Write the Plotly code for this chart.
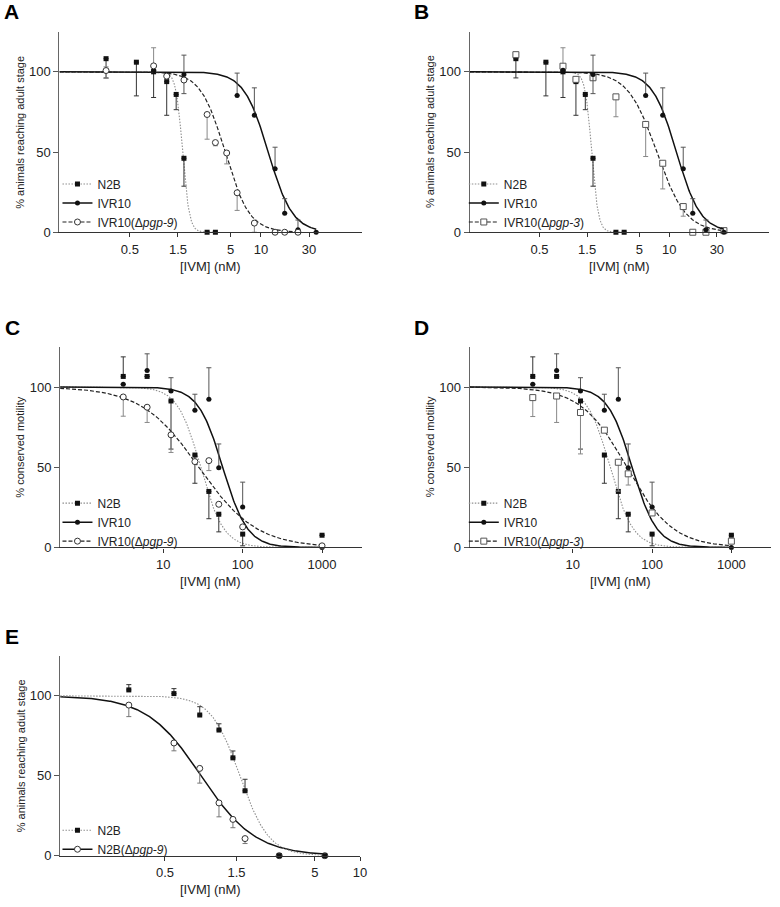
import numpy as np
import plotly.graph_objects as go

W, H = 780, 907
FONT = "Liberation Sans, Arial, Helvetica, sans-serif"

# ---------------- Data: panels A & B (larval development, [IVM] nM) ----------------
n2b_dev_x = [0.29, 0.58, 0.86, 1.16, 1.44, 1.72, 2.92, 3.53]
n2b_dev_y = [108.2, 106.0, 100.0, 93.9, 85.9, 46.1, 0.0, 0.0]
n2b_dev_up = [0, 0, 0, 0, 0, 0, 0, 0]
n2b_dev_dn = [12, 21, 16, 21, 9.5, 17.4, 0, 0]

ivr10_dev_x = [0.86, 1.72, 5.8, 8.6, 13.8, 17.2, 23.3, 35.3]
ivr10_dev_y = [101.0, 98.4, 85.2, 73.0, 39.5, 11.9, 1.6, 0.0]
ivr10_dev_up = [0, 12, 14, 17, 13.5, 9, 6, 0]
ivr10_dev_dn = [0, 12, 0, 0, 0, 0, 0, 0]

pgp9_dev_x = [0.29, 0.86, 1.16, 1.72, 2.92, 3.53, 4.57, 5.8, 8.6, 13.8, 17.2, 23.3]
pgp9_dev_y = [100.8, 103.7, 97.3, 94.9, 73.4, 55.9, 49.4, 24.6, 5.7, 0.0, 0.0, 0.0]
pgp9_dev_up = [2.3, 11.3, 0, 0, 0, 0, 0, 0, 0, 0, 0, 0]
pgp9_dev_dn = [4.9, 0, 0, 0, 15.4, 2, 6.8, 11, 5.7, 0, 0, 0]

pgp3_dev_x = [0.29, 0.86, 1.16, 1.72, 2.92, 5.8, 8.6, 13.8, 17.2, 23.3, 35.3]
pgp3_dev_y = [110.7, 103.5, 95.3, 96.3, 84.4, 67.2, 43.0, 16.0, 0.0, 0.0, 1.0]
pgp3_dev_up = [0, 11.5, 0, 0, 0, 0, 0, 0, 0, 0, 0]
pgp3_dev_dn = [0, 0, 0, 0, 12.4, 20, 16, 6, 0, 0, 0]

# fitted dose-response parameters (IC50 nM, Hill slope)
dev_fit_ic50 = {"n2b": 1.67, "ivr10": 11.8, "pgp9": 4.4, "pgp3": 7.5}
dev_fit_hill = {"n2b": 13.0, "ivr10": 3.6, "pgp9": 3.6, "pgp3": 3.0}

# ---------------- Data: panels C & D (motility, [IVM] nM) ----------------
mot_x = [3.125, 6.25, 12.5, 25, 37.5, 50, 100, 1000]
n2b_mot_y = [106.6, 106.6, 91.3, 57.6, 34.9, 20.7, 8.3, 7.6]
n2b_mot_up = [12.2, 0, 0, 0, 0, 0, 0, 0]
n2b_mot_dn = [0, 0, 30, 17.6, 17, 11, 7.3, 0]

ivr10_mot_y = [101.7, 110.3, 97.5, 85.5, 92.4, 49.6, 25.2, 0.0]
ivr10_mot_up = [0, 10.4, 8.3, 10, 19.6, 14.9, 15.5, 0]
ivr10_mot_dn = [0, 0, 0, 0, 0, 0, 0, 0]

pgp9_mot_y = [93.8, 87.4, 70.2, 53.5, 54.1, 26.9, 12.8, 1.0]
pgp9_mot_up = [0, 0, 0, 0, 0, 0, 0, 0]
pgp9_mot_dn = [12, 9.5, 11, 0, 6.2, 0, 0, 0]

pgp3_mot_y = [93.4, 94.4, 84.1, 73.1, 53.1, 45.9, 21.5, 3.9]
pgp3_mot_up = [0, 0, 0, 0, 0, 0, 0, 0]
pgp3_mot_dn = [11.8, 16.5, 25.8, 0, 18, 7, 0, 0]

mot_fit_ic50 = {"n2b": 29.5, "ivr10": 56.0, "pgp9": 28.0, "pgp3": 48.0}
mot_fit_hill = {"n2b": 3.0, "ivr10": 2.8, "pgp9": 1.2, "pgp3": 1.5}

# ---------------- Data: panel E (N2B vs N2B(Δpgp-9), development) ----------------
e_x = [0.287, 0.574, 0.853, 1.146, 1.42, 1.71, 2.89, 5.82]
e_n2b_y = [103.7, 101.4, 88.0, 78.6, 61.2, 40.6, 0.0, 0.0]
e_n2b_up = [3.3, 3.1, 5.2, 3.9, 4.3, 7.2, 0, 0]
e_n2b_dn = [0, 0, 0, 0, 0, 0, 0, 0]
e_pgp9_y = [94.2, 70.5, 54.6, 33.0, 22.7, 10.7, 0.0, 0.0]
e_pgp9_up = [0, 0, 0, 0, 0, 0, 0, 0]
e_pgp9_dn = [7.2, 4.9, 9.2, 8.7, 5.2, 3.1, 0, 0]

e_fit_ic50 = {"n2b": 1.58, "pgp9": 0.87}
e_fit_hill = {"n2b": 4.5, "pgp9": 2.4}

# ---------------- Styles ----------------
STY = {
    "n2b": dict(line=dict(color="#8f8f8f", width=1.1, dash="1.5px,1.5px"),
                marker=dict(symbol="square", size=5, color="#111", line=dict(width=0)), err="#333"),
    "ivr10": dict(line=dict(color="#111", width=1.5, dash="solid"),
                  marker=dict(symbol="circle", size=5, color="#111", line=dict(width=0)), err="#555"),
    "pgp9": dict(line=dict(color="#222", width=1.2, dash="4px,2px"),
                 marker=dict(symbol="circle", size=6, color="white", line=dict(width=1, color="#333")),
                 err="#888"),
    "pgp3": dict(line=dict(color="#222", width=1.2, dash="4px,2px"),
                 marker=dict(symbol="square", size=6, color="white", line=dict(width=1, color="#555")),
                 err="#888"),
    "e_pgp9": dict(line=dict(color="#111", width=1.5, dash="solid"),
                   marker=dict(symbol="circle", size=6, color="white", line=dict(width=1, color="#333")),
                   err="#777"),
}


def px2paper_x(px):
    return px / W


def px2paper_y(py):
    return 1 - py / H


fig = go.Figure()

# panel geometry (pixels)
PANELS = {
    "A": dict(n="", x0=60, x1=365, y0=32, y1=234.3, xr=[-1, 2], tv=[0.5, 1.5, 5, 10, 30], xmin=0.1),
    "B": dict(n="2", x0=474, x1=776, y0=32, y1=234.3, xr=[-1, 2], tv=[0.5, 1.5, 5, 10, 30], xmin=0.1),
    "C": dict(n="3", x0=60.7, x1=365, y0=350, y1=552.3, xr=[-0.3, 3.5], tv=[10, 100, 1000], xmin=0.5),
    "D": dict(n="4", x0=474, x1=778, y0=350, y1=552.3, xr=[-0.3, 3.5], tv=[10, 100, 1000], xmin=0.5),
    "E": dict(n="5", x0=60.7, x1=363.3, y0=661.7, y1=863.3, xr=[-1, 1], tv=[0.5, 1.5, 5, 10], xmin=0.1),
}


def add_series(panel, style, xs, ys, up, dn, ic50, hill, name, legend, rank):
    p = PANELS[panel]
    xa, ya = "x" + p["n"], "y" + p["n"]
    st = STY[style]
    # fitted curve from the dose-response parameters
    cx = np.logspace(np.log10(p["xmin"]), np.log10(max(xs)), 300)
    cy = 100.0 / (1.0 + (cx / ic50) ** hill)
    fig.add_trace(go.Scatter(x=cx, y=cy, mode="lines", line=st["line"], showlegend=False,
                             xaxis=xa, yaxis=ya, hoverinfo="skip", cliponaxis=False))
    fig.add_trace(go.Scatter(x=xs, y=ys, mode="markers", marker=st["marker"], showlegend=False,
                             error_y=dict(type="data", symmetric=False, array=up, arrayminus=dn,
                                          color=st["err"], thickness=1, width=2.5),
                             xaxis=xa, yaxis=ya, cliponaxis=False))
    fig.add_trace(go.Scatter(x=[None], y=[None], mode="lines+markers", line=st["line"],
                             marker=st["marker"], name=name, legend=legend, showlegend=True,
                             legendrank=rank, xaxis=xa, yaxis=ya))


PGP9 = "IVR10(Δ<i>pgp-9</i>)"
PGP3 = "IVR10(Δ<i>pgp-3</i>)"

# Panel A
add_series("A", "n2b", n2b_dev_x, n2b_dev_y, n2b_dev_up, n2b_dev_dn,
           dev_fit_ic50["n2b"], dev_fit_hill["n2b"], "N2B", "legend", 1)
add_series("A", "ivr10", ivr10_dev_x, ivr10_dev_y, ivr10_dev_up, ivr10_dev_dn,
           dev_fit_ic50["ivr10"], dev_fit_hill["ivr10"], "IVR10", "legend", 2)
add_series("A", "pgp9", pgp9_dev_x, pgp9_dev_y, pgp9_dev_up, pgp9_dev_dn,
           dev_fit_ic50["pgp9"], dev_fit_hill["pgp9"], PGP9, "legend", 3)
# Panel B
add_series("B", "n2b", n2b_dev_x, n2b_dev_y, n2b_dev_up, n2b_dev_dn,
           dev_fit_ic50["n2b"], dev_fit_hill["n2b"], "N2B", "legend2", 1)
add_series("B", "pgp3", pgp3_dev_x, pgp3_dev_y, pgp3_dev_up, pgp3_dev_dn,
           dev_fit_ic50["pgp3"], dev_fit_hill["pgp3"], PGP3, "legend2", 3)
add_series("B", "ivr10", ivr10_dev_x, ivr10_dev_y, ivr10_dev_up, ivr10_dev_dn,
           dev_fit_ic50["ivr10"], dev_fit_hill["ivr10"], "IVR10", "legend2", 2)
# Panel C
add_series("C", "n2b", mot_x, n2b_mot_y, n2b_mot_up, n2b_mot_dn,
           mot_fit_ic50["n2b"], mot_fit_hill["n2b"], "N2B", "legend3", 1)
add_series("C", "ivr10", mot_x, ivr10_mot_y, ivr10_mot_up, ivr10_mot_dn,
           mot_fit_ic50["ivr10"], mot_fit_hill["ivr10"], "IVR10", "legend3", 2)
add_series("C", "pgp9", mot_x, pgp9_mot_y, pgp9_mot_up, pgp9_mot_dn,
           mot_fit_ic50["pgp9"], mot_fit_hill["pgp9"], PGP9, "legend3", 3)
# Panel D
add_series("D", "n2b", mot_x, n2b_mot_y, n2b_mot_up, n2b_mot_dn,
           mot_fit_ic50["n2b"], mot_fit_hill["n2b"], "N2B", "legend4", 1)
add_series("D", "ivr10", mot_x, ivr10_mot_y, ivr10_mot_up, ivr10_mot_dn,
           mot_fit_ic50["ivr10"], mot_fit_hill["ivr10"], "IVR10", "legend4", 2)
add_series("D", "pgp3", mot_x, pgp3_mot_y, pgp3_mot_up, pgp3_mot_dn,
           mot_fit_ic50["pgp3"], mot_fit_hill["pgp3"], PGP3, "legend4", 3)
# Panel E (mutant drawn first so the N2B squares sit on top at 0 %)
add_series("E", "e_pgp9", e_x, e_pgp9_y, e_pgp9_up, e_pgp9_dn,
           e_fit_ic50["pgp9"], e_fit_hill["pgp9"], "N2B(Δ<i>pgp-9</i>)", "legend5", 2)
add_series("E", "n2b", e_x, e_n2b_y, e_n2b_up, e_n2b_dn,
           e_fit_ic50["n2b"], e_fit_hill["n2b"], "N2B", "legend5", 1)


def fmt(v):
    return ("%g" % v)


layout = dict(width=W, height=H, margin=dict(l=0, r=0, t=0, b=0),
              paper_bgcolor="white", plot_bgcolor="white",
              font=dict(family=FONT, size=13, color="#222"), showlegend=True)

legend_pos = {"A": ("legend", 58, 171), "B": ("legend2", 468, 171), "C": ("legend3", 58, 493),
              "D": ("legend4", 468, 493), "E": ("legend5", 58, 823)}

annotations = []
ytitles = {"A": "% animals reaching adult stage", "B": "% animals reaching adult stage",
           "C": "% conserved motility", "D": "% conserved motility",
           "E": "% animals reaching adult stage"}
for lab, p in PANELS.items():
    n = p["n"]
    xa_name, ya_name = "xaxis" + n, "yaxis" + n
    layout[xa_name] = dict(
        domain=[px2paper_x(p["x0"]), px2paper_x(p["x1"])], type="log", range=p["xr"],
        tickvals=p["tv"], ticktext=[fmt(v) for v in p["tv"]], ticks="outside", ticklen=4,
        tickwidth=1, tickcolor="#333", showline=True, linecolor="#333", linewidth=1.2,
        showgrid=False, zeroline=False, anchor="y" + n, ticklabelstandoff=1,
        tickfont=dict(size=13, family=FONT, color="#222"))
    layout[ya_name] = dict(
        domain=[px2paper_y(p["y1"]), px2paper_y(p["y0"])], range=[0, 125], tickvals=[0, 50, 100],
        ticks="outside", ticklen=5, tickwidth=1, tickcolor="#555", showline=True,
        linecolor="#666", linewidth=1.2, showgrid=False, zeroline=False, anchor="x" + n,
        tickfont=dict(size=13, family=FONT, color="#222"))
    lg, lx, ly = legend_pos[lab]
    layout[lg] = dict(x=px2paper_x(lx), y=px2paper_y(ly), xanchor="left", yanchor="top",
                      bgcolor="rgba(0,0,0,0)", font=dict(size=12, family=FONT, color="#222"),
                      tracegroupgap=0, itemwidth=30, traceorder="normal")
    # panel letter
    annotations.append(dict(text="<b>%s</b>" % lab, x=px2paper_x(p["x0"] - 58),
                            y=px2paper_y(p["y0"] - 20), xref="paper", yref="paper",
                            xanchor="left", yanchor="middle", showarrow=False,
                            font=dict(size=21, family=FONT, color="#000")))
    # y title
    annotations.append(dict(text=ytitles[lab], x=px2paper_x(p["x0"] - 40),
                            y=px2paper_y((p["y0"] + p["y1"]) / 2), xref="paper", yref="paper",
                            xanchor="center", yanchor="middle", textangle=-90, showarrow=False,
                            font=dict(size=11, family=FONT, color="#222")))
    # x title
    annotations.append(dict(text="[IVM] (nM)", x=px2paper_x((p["x0"] + p["x1"]) / 2),
                            y=px2paper_y(p["y1"] + 25), xref="paper", yref="paper",
                            xanchor="center", yanchor="top", showarrow=False,
                            font=dict(size=13, family=FONT, color="#222")))

layout["annotations"] = annotations
fig.update_layout(**layout)
fig.write_html("out.html")
